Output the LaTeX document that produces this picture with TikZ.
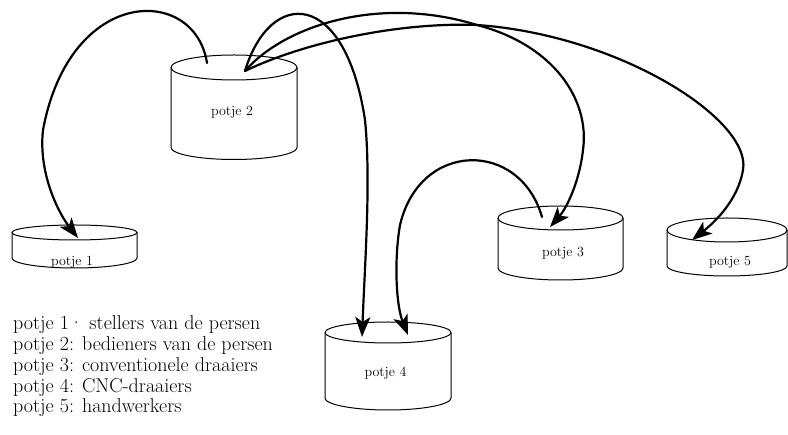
\documentclass[tikz,border=0pt]{standalone}
\usepackage{fontspec}
\usetikzlibrary{arrows.meta}

\tikzset{
  potline/.style={line width=1pt, line join=round},
  flow/.style={line width=2.2pt, line cap=round,
    -{Stealth[length=20pt, width=15pt, inset=5pt]}},
  potlabel/.style={font=\fontsize{14}{16}\selectfont, inner sep=0pt},
  legend/.style={font=\fontsize{20}{20.75}\selectfont, align=left,
    anchor=base west, inner sep=0pt},
  % cylinder: x radius / top y radius / side height / bottom y radius
  pics/pot/.style args={#1/#2/#3/#4}{code={
    \draw[potline] (0,0) ellipse[x radius=#1, y radius=#2];
    \draw[potline] (-#1,0) -- (-#1,#3)
      arc[start angle=180, end angle=0, x radius=#1, y radius=#4] -- (#1,0);
  }}
}

\begin{document}
\begin{tikzpicture}[x=1pt, y=-1pt]
\useasboundingbox (0,0) rectangle (788,435);

% the five pots
\pic at (234,67.5)   {pot=63/12.5/80/12};
\pic at (74.5,232.5) {pot=62.5/7.5/25.5/10};
\pic at (560.5,218)  {pot=62.5/12/50/12};
\pic at (388,332.5)  {pot=63/10.5/65.5/12};
\pic at (727,230)    {pot=60/12/36/10};

\node[potlabel] (pot1) at (72,262)    {potje 1};
\node[potlabel] (pot2) at (232,112)   {potje 2};
\node[potlabel] (pot3) at (563,253)   {potje 3};
\node[potlabel] (pot4) at (385.5,373) {potje 4};
\node[potlabel] (pot5) at (730,262)   {potje 5};

% ends of the flows on the pot tops
\coordinate (p2a) at (207,63);
\coordinate (p2b) at (245,71);
\coordinate (p1in) at (78,238);
\coordinate (p4inl) at (362,337);
\coordinate (p4inr) at (408,335);
\coordinate (p3in) at (550,227);
\coordinate (p3out) at (542,217);
\coordinate (p5in) at (692,240);

% flows between the pots
\draw[flow] (p2a) .. controls (195,-15) and (70,-15) .. (43,130)
  .. controls (38,175) and (60,215) .. (p1in);
\draw[flow] (p2b) .. controls (270,-12) and (345,-12) .. (365,120)
  .. controls (371,180) and (365,260) .. (p4inl);
\draw[flow] (p2b) .. controls (285,25) and (380,-5) .. (477,25)
  .. controls (554,45) and (590,100) .. (583,150)
  .. controls (579,185) and (565,210) .. (p3in);
\draw[flow] (p2b) .. controls (305,42) and (400,22) .. (477,25)
  .. controls (620,35) and (752,120) .. (743,170)
  .. controls (738,200) and (715,222) .. (p5in);
\draw[flow] (p3out) .. controls (520,140) and (420,140) .. (400,225)
  .. controls (394,260) and (396,305) .. (p4inr);

% legend
\node[legend] (legend) at (13,413) {potje 1· stellers van de persen\\
potje 2: bedieners van de persen\\
potje 3: conventionele draaiers\\
potje 4: CNC-draaiers\\
potje 5: handwerkers};
\end{tikzpicture}
\end{document}
